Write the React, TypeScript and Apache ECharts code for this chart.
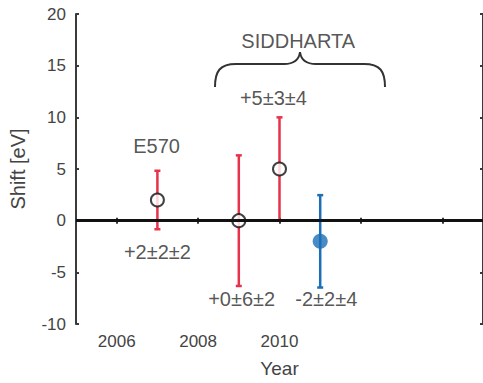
import React, { useEffect, useRef } from "react";
import * as echarts from "echarts";

const years = [2007, 2009, 2010, 2011];
const shifts = [2, 0, 5, -2];
const errors = [2.83, 6.32, 5.0, 4.47];
const barColors = ["#e8324a", "#e8324a", "#e8324a", "#1c6fb6"];
const openIdx = [0, 1, 2];
const filledIdx = [3];

const xTicks = [2006, 2008, 2010, 2012, 2014];
const xLabels = [2006, 2008, 2010];

const annotText = ["E570", "+2±2±2", "+0±6±2", "+5±3±4", "-2±2±4", "SIDDHARTA"];
const annotX = [2006.98, 2007.0, 2009.07, 2009.85, 2011.15, 2010.46];
const annotY = [7.2, -3.0, -7.6, 11.9, -7.6, 17.4];

const braceD =
  "M215,87 C215,71 220,64 236,64 L284,64 C293,64 299,60 300,52 C301,60 307,64 316,64 L364,64 C380,64 385,71 385,87";

export default function App() {
  const ref = useRef<HTMLDivElement>(null);
  useEffect(() => {
    if (!ref.current) return;
    try {
      echarts.graphic.registerShape("brace", echarts.graphic.extendPath(braceD, {}));
    } catch (e) {}
    const chart = echarts.init(ref.current, null, { renderer: "svg" });
    const font = "Liberation Sans, Arial, sans-serif";
    const labelColor = "#444";
    const axisColor = "#3a3a3a";
    chart.setOption({
      animation: false,
      textStyle: { fontFamily: font },
      grid: { left: 76, top: 14, width: 410, height: 311 },
      xAxis: [
        {
          type: "value",
          min: 2005,
          max: 2015,
          position: "bottom",
          name: "Year",
          nameLocation: "middle",
          nameGap: 35,
          nameTextStyle: { fontSize: 19, color: labelColor, fontFamily: font },
          axisLine: { show: true, lineStyle: { color: axisColor, width: 2 } },
          axisTick: { show: true, inside: true, length: 3, customValues: xTicks, lineStyle: { color: axisColor, width: 2 } },
          axisLabel: {
            customValues: xLabels,
            fontSize: 17,
            color: labelColor,
            margin: 9,
            fontFamily: font,
            formatter: (v: number) => String(v),
          },
          splitLine: { show: false },
        },
        {
          type: "value",
          min: 2005,
          max: 2015,
          position: "top",
          axisLine: { show: true, lineStyle: { color: axisColor, width: 2 } },
          axisTick: { show: true, inside: true, length: 3, customValues: xTicks, lineStyle: { color: axisColor, width: 2 } },
          axisLabel: { show: false },
          splitLine: { show: false },
        },
      ],
      yAxis: [
        {
          type: "value",
          min: -10,
          max: 20,
          interval: 5,
          position: "left",
          name: "Shift [eV]",
          nameLocation: "middle",
          nameGap: 48,
          nameTextStyle: { fontSize: 20, color: labelColor, fontFamily: font },
          axisLine: { show: true, lineStyle: { color: axisColor, width: 2 } },
          axisTick: { show: true, inside: true, length: 3, lineStyle: { color: axisColor, width: 2 } },
          axisLabel: { fontSize: 17, color: labelColor, margin: 10, fontFamily: font },
          splitLine: { show: false },
        },
        {
          type: "value",
          min: -10,
          max: 20,
          interval: 5,
          position: "right",
          axisLine: { show: true, lineStyle: { color: axisColor, width: 2 } },
          axisTick: { show: true, inside: true, length: 3, lineStyle: { color: axisColor, width: 2 } },
          axisLabel: { show: false },
          splitLine: { show: false },
        },
      ],
      series: [
        {
          type: "line",
          data: [],
          markLine: {
            silent: true,
            symbol: ["none", "none"],
            label: { show: false },
            lineStyle: { color: "#111", width: 3, type: "solid" },
            data: [{ yAxis: 0 }],
          },
          z: 1,
        },
        {
          type: "custom",
          z: 2,
          encode: { x: 0, y: [1, 2] },
          data: years.map((y, i) => [y, shifts[i] - errors[i], shifts[i] + errors[i]]),
          renderItem: (params: any, api: any) => {
            const x = api.value(0);
            const p1 = api.coord([x, api.value(1)]);
            const p2 = api.coord([x, api.value(2)]);
            const c = barColors[params.dataIndex];
            const cap = 3;
            const st = { stroke: c, lineWidth: 2.5 };
            return {
              type: "group",
              children: [
                { type: "line", shape: { x1: p1[0], y1: p1[1], x2: p2[0], y2: p2[1] }, style: st },
                { type: "line", shape: { x1: p1[0] - cap, y1: p1[1], x2: p1[0] + cap, y2: p1[1] }, style: st },
                { type: "line", shape: { x1: p2[0] - cap, y1: p2[1], x2: p2[0] + cap, y2: p2[1] }, style: st },
              ],
            };
          },
        },
        {
          type: "scatter",
          z: 3,
          symbol: "circle",
          symbolSize: 13,
          itemStyle: { color: "#fff", borderColor: "#111", borderWidth: 2 },
          data: openIdx.map((i) => [years[i], shifts[i]]),
        },
        {
          type: "scatter",
          z: 3,
          symbol: "circle",
          symbolSize: 15,
          itemStyle: { color: "#1c6fb6" },
          data: filledIdx.map((i) => [years[i], shifts[i]]),
        },
        {
          type: "scatter",
          z: 4,
          symbolSize: 0,
          silent: true,
          data: annotText.map((t, i) => ({
            value: [annotX[i], annotY[i]],
            label: {
              show: true,
              position: "inside",
              formatter: t,
              fontSize: 20,
              color: "#2a2a2a",
              fontFamily: font,
            },
          })),
        },
      ],
      graphic: [
        {
          type: "brace",
          x: 0,
          y: 0,
          shape: {},
          style: { fill: "none", stroke: "#333", lineWidth: 2 },
        },
      ],
    });
    return () => chart.dispose();
  }, []);
  return (
    <div
      ref={ref}
      style={{ position: "fixed", left: 0, top: 0, width: 483, height: 383, background: "#fff" }}
    />
  );
}
